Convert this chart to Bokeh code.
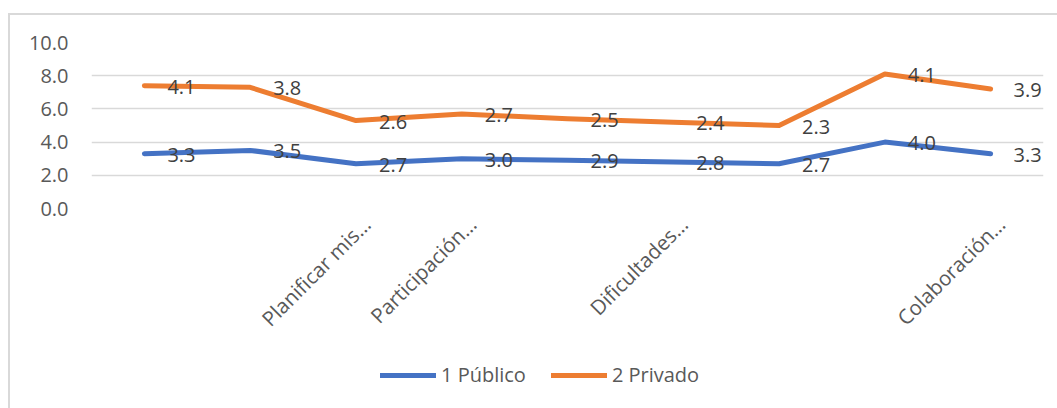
import math
from bokeh.plotting import figure
from bokeh.layouts import column
from bokeh.models import ColumnDataSource, FixedTicker, Legend, LegendItem, CustomJSTickFormatter, Range1d
from bokeh.core.properties import value
from bokeh.embed import file_html
from bokeh.resources import INLINE

# ---- data ----
categories = ["", "", "Planificar mis…", "Participación…", "", "Dificultades…", "", "", "Colaboración…"]
publico = [3.3, 3.5, 2.7, 3.0, 2.9, 2.8, 2.7, 4.0, 3.3]
privado = [4.1, 3.8, 2.6, 2.7, 2.5, 2.4, 2.3, 4.1, 3.9]
y_ticks = [0, 2, 4, 6, 8, 10]
series_names = ["1 Público", "2 Privado"]

FONT = "Open Sans"
BLUE = "#4472C4"
ORANGE = "#ED7D31"

x = list(range(len(categories)))
stack_top = [a + b for a, b in zip(publico, privado)]

src = ColumnDataSource(dict(
    x=x,
    pub=publico,
    priv_top=stack_top,
    pub_lbl=[f"{v:.1f}" for v in publico],
    priv_lbl=[f"{v:.1f}" for v in privado],
))

W = 1047
p = figure(width=W, height=330, output_backend="svg", toolbar_location=None,
           x_range=Range1d(-0.5, len(categories) - 0.5), y_range=Range1d(0, 10),
           min_border_left=81, min_border_right=14, min_border_top=27, min_border_bottom=137)
p.outline_line_color = None
p.background_fill_color = "white"
p.border_fill_color = "white"

# grid
p.xgrid.grid_line_color = None
p.ygrid.grid_line_color = "#d9d9d9"
p.ygrid.grid_line_width = 1.3
p.ygrid.ticker = FixedTicker(ticks=y_ticks)

# y axis
p.yaxis.ticker = FixedTicker(ticks=y_ticks)
p.yaxis.formatter = CustomJSTickFormatter(code="return tick.toFixed(1);")
p.yaxis.axis_line_color = None
p.yaxis.major_tick_line_color = None
p.yaxis.minor_tick_line_color = None
p.yaxis.major_tick_out = 0
p.yaxis.major_tick_in = 0
p.yaxis.major_label_standoff = 23
p.yaxis.major_label_text_font = FONT
p.yaxis.major_label_text_font_size = "20px"
p.yaxis.major_label_text_color = "#595959"

# x axis (label anchors nudged right like Excel's rotated labels)
shift = 0.1
p.xaxis.ticker = FixedTicker(ticks=[i + shift for i in x])
p.xaxis.formatter = CustomJSTickFormatter(args=dict(labels=categories, shift=shift),
                                          code="return labels[Math.round(tick - shift)] || '';")
p.xaxis.major_label_orientation = math.pi / 4
p.xaxis.axis_line_color = None
p.xaxis.major_tick_line_color = None
p.xaxis.minor_tick_line_color = None
p.xaxis.major_tick_out = 0
p.xaxis.major_tick_in = 0
p.xaxis.major_label_standoff = 12
p.xaxis.major_label_text_font = FONT
p.xaxis.major_label_text_font_size = "20.5px"
p.xaxis.major_label_text_color = "#595959"

# lines
line_kw = dict(line_width=5, line_cap="round", line_join="round")
p.line("x", "pub", source=src, line_color=BLUE, **line_kw)
p.line("x", "priv_top", source=src, line_color=ORANGE, **line_kw)

# data labels
for col, lbl in (("pub", "pub_lbl"), ("priv_top", "priv_lbl")):
    p.text("x", col, text=lbl, source=src, x_offset=23, y_offset=1,
           text_align="left", text_baseline="middle",
           text_font=value(FONT), text_font_size="20px", text_color="#404040")

# legend strip (separate figure so the legend sits freely below the rotated labels)
q = figure(width=W, height=63, output_backend="svg", toolbar_location=None,
           x_range=Range1d(-0.5, len(categories) - 0.5), y_range=Range1d(100, 101),
           min_border=0)
q.axis.visible = False
q.grid.visible = False
q.outline_line_color = None
q.background_fill_color = "white"
q.border_fill_color = "white"
l1 = q.line("x", "pub", source=src, line_color=BLUE, **line_kw)
l2 = q.line("x", "priv_top", source=src, line_color=ORANGE, **line_kw)
legend = Legend(items=[LegendItem(label=series_names[0], renderers=[l1]),
                       LegendItem(label=series_names[1], renderers=[l2])],
                orientation="horizontal", location=(289, 20),
                glyph_width=56, glyph_height=20, label_standoff=5, spacing=25,
                padding=0, margin=0, border_line_color=None, background_fill_alpha=0,
                label_text_font=FONT, label_text_font_size="20px", label_text_color="#595959")
q.add_layout(legend, "center")

layout = column(p, q, spacing=0)
layout.styles = {"margin-top": "13px", "margin-left": "8px",
                 "border-left": "2px solid #d9d9d9", "border-top": "2px solid #d9d9d9"}

open("out.html", "w").write(file_html(layout, INLINE))
